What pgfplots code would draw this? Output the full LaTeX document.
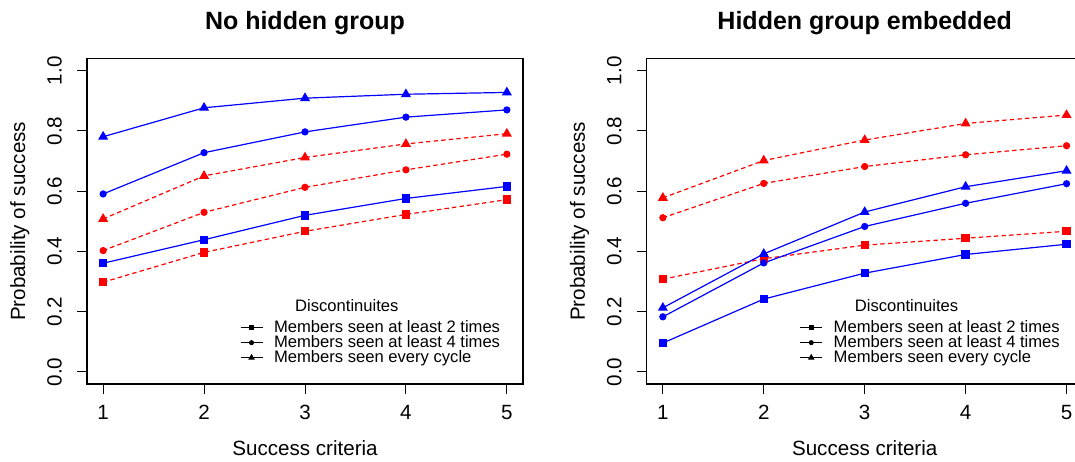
\documentclass[border=0pt]{standalone}
\usepackage{pgfplots}
\pgfplotsset{compat=1.18}
\usepackage{fontspec}
\setmainfont{Liberation Sans}
\definecolor{rblue}{RGB}{0,0,255}
\definecolor{rred}{RGB}{255,0,0}

\pgfplotsset{
  rpanel/.style={
    width=218pt, height=162.65pt, scale only axis,
    xmin=0.84, xmax=5.16, ymin=-0.04, ymax=1.04,
    xtick={1,2,3,4,5}, ytick={0,0.2,0.4,0.6,0.8,1},
    xtick pos=bottom, ytick pos=left,
    tick align=outside, major tick length=5pt,
    tick style={black, line width=0.5pt},
    axis line style={black, line width=0.6pt},
    /pgf/number format/assume math mode=true,
    ticklabel style={font=\fontsize{10.3}{12}\selectfont},
    xticklabel shift=2pt, yticklabel shift=4pt,
    yticklabel style={rotate=90, anchor=south,
      /pgf/number format/fixed, /pgf/number format/fixed zerofill,
      /pgf/number format/precision=1},
    xlabel={Success criteria},
    ylabel={Probability of success},
    label style={font=\fontsize{10.3}{12}\selectfont},
    xlabel style={at={(axis description cs:0.5,-0.197)}, anchor=center},
    ylabel style={at={(axis description cs:-0.154,0.5)}, anchor=center},
    title style={font=\bfseries\fontsize{12.5}{14}\selectfont,
      at={(axis description cs:0.5,1)}, anchor=base, yshift=8.7pt},
    legend style={at={(axis description cs:0.351,0.199)}, anchor=north west,
      draw=none, fill=none, inner sep=0pt, outer sep=0pt,
      font=\fontsize{8.3}{9}\selectfont, row sep=-0.9pt,
      nodes={inner sep=0.5pt, text height=5.9pt, text depth=1.5pt},
      column sep=5pt},
    legend cell align=left,
    legend image code/.code={
      \draw[##1, mark repeat=2, mark phase=2]
        plot coordinates {(0pt,0pt) (5.5pt,0pt) (11pt,0pt)};},
  },
  bl/.style={rblue, line width=0.6pt, solid},
  rd/.style={rred, line width=0.6pt, dash pattern=on 2.2pt off 1.6pt},
  sq/.style={mark=square*, mark size=1.8pt, mark options={solid}},
  ci/.style={mark=*, mark size=1.5pt, mark options={solid}},
  tr/.style={mark=triangle*, mark size=2.3pt, mark options={solid}},
  legsq/.style={black, line width=0.5pt, mark=square*, mark size=1.1pt},
  legci/.style={black, line width=0.5pt, mark=*, mark size=1.0pt},
  legtr/.style={black, line width=0.5pt, mark=triangle*, mark size=1.4pt},
}

\begin{document}
\begin{tikzpicture}
\useasboundingbox (0,0) rectangle (537.5pt,230.5pt);
\clip (0,0) rectangle (537.5pt,230.5pt);

% left panel
\begin{axis}[rpanel, at={(43.5pt,38.5pt)}, anchor=south west,
  title={No hidden group}]
\addplot[bl, tr, forget plot] coordinates {(1,0.781)(2,0.877)(3,0.909)(4,0.922)(5,0.928)};
\addplot[bl, ci, forget plot] coordinates {(1,0.591)(2,0.728)(3,0.797)(4,0.846)(5,0.870)};
\addplot[bl, sq, forget plot] coordinates {(1,0.361)(2,0.439)(3,0.520)(4,0.576)(5,0.616)};
\addplot[rd, tr, forget plot] coordinates {(1,0.508)(2,0.651)(3,0.712)(4,0.757)(5,0.791)};
\addplot[rd, ci, forget plot] coordinates {(1,0.403)(2,0.530)(3,0.613)(4,0.671)(5,0.723)};
\addplot[rd, sq, forget plot] coordinates {(1,0.298)(2,0.397)(3,0.467)(4,0.523)(5,0.572)};
\addlegendimage{legsq}\addlegendentry{Members seen at least 2 times}
\addlegendimage{legci}\addlegendentry{Members seen at least 4 times}
\addlegendimage{legtr}\addlegendentry{Members seen every cycle}
\node[font=\fontsize{8.3}{9}\selectfont] at (axis description cs:0.596,0.24) {Discontinuites};
\end{axis}

% right panel
\begin{axis}[rpanel, at={(323.35pt,38.5pt)}, anchor=south west,
  title={Hidden group embedded}]
\addplot[rd, tr, forget plot] coordinates {(1,0.578)(2,0.702)(3,0.770)(4,0.825)(5,0.853)};
\addplot[rd, ci, forget plot] coordinates {(1,0.512)(2,0.626)(3,0.682)(4,0.721)(5,0.751)};
\addplot[rd, sq, forget plot] coordinates {(1,0.308)(2,0.376)(3,0.421)(4,0.444)(5,0.467)};
\addplot[bl, tr, forget plot] coordinates {(1,0.213)(2,0.392)(3,0.531)(4,0.615)(5,0.668)};
\addplot[bl, ci, forget plot] coordinates {(1,0.183)(2,0.362)(3,0.483)(4,0.560)(5,0.625)};
\addplot[bl, sq, forget plot] coordinates {(1,0.096)(2,0.242)(3,0.328)(4,0.390)(5,0.424)};
\addlegendimage{legsq}\addlegendentry{Members seen at least 2 times}
\addlegendimage{legci}\addlegendentry{Members seen at least 4 times}
\addlegendimage{legtr}\addlegendentry{Members seen every cycle}
\node[font=\fontsize{8.3}{9}\selectfont] at (axis description cs:0.596,0.24) {Discontinuites};
\end{axis}
\end{tikzpicture}
\end{document}
